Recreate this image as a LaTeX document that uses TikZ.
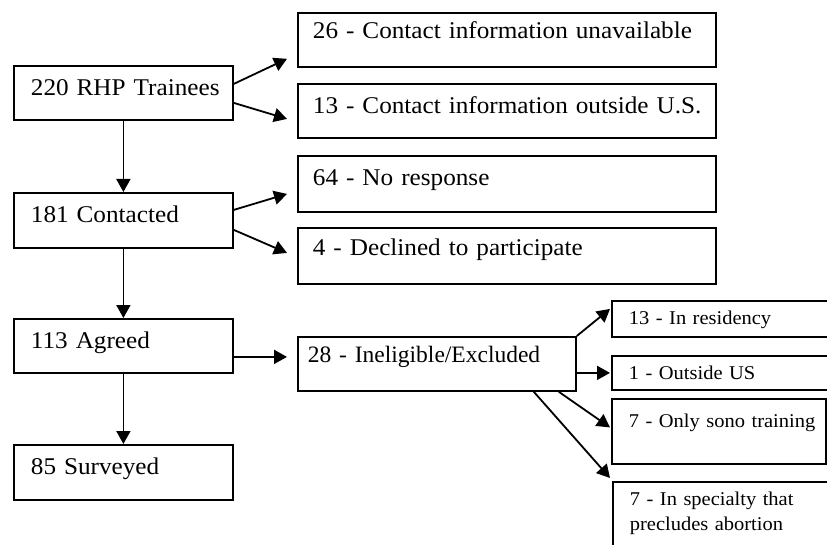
\documentclass[tikz,border=0pt]{standalone}
\usepackage{fontspec}
\setmainfont{Liberation Serif}
\newfontfamily\camb{Liberation Serif}[FakeStretch=1.05]
\usetikzlibrary{arrows.meta,calc}
\tikzset{
  box/.style={draw, line width=1.8pt, anchor=north west, inner ysep=0pt, inner xsep=17pt, align=left},
  bigtext/.style={font=\camb\fontsize{24}{28}\selectfont},
  smalltext/.style={font=\camb\fontsize{19.5}{25}\selectfont},
  timestext/.style={font=\rmfamily\fontsize{23.5}{28}\selectfont},
  arr/.style={line width=1.8pt, -{Triangle[length=13pt,width=14pt]}}
}
\begin{document}
\begin{tikzpicture}[x=1pt,y=-1pt]
\useasboundingbox (0,0) rectangle (827,545);
\clip (0,0) rectangle (827,545);
% left column
\node[box,bigtext,text width=185pt,text height=30pt,text depth=24pt] (A) at (13,65) {\mbox{220 RHP Trainees}};
\node[box,bigtext,text width=185pt,text height=30pt,text depth=25pt] (B) at (13,192) {\mbox{181 Contacted}};
\node[box,bigtext,text width=185pt,text height=30pt,text depth=24pt] (C) at (13,318) {\mbox{113 Agreed}};
\node[box,bigtext,text width=185pt,text height=30pt,text depth=25pt] (D) at (13,444) {\mbox{85 Surveyed}};
% right top
\node[box,bigtext,inner xsep=15pt,text width=388pt,text height=26pt,text depth=28pt] (E) at (297,12) {\mbox{26 - Contact information unavailable}};
\node[box,bigtext,inner xsep=15pt,text width=388pt,text height=30pt,text depth=24pt] (F) at (297,83) {\mbox{13 - Contact information outside U.S.}};
\node[box,bigtext,inner xsep=15pt,text width=388pt,text height=30pt,text depth=26pt] (G) at (297,155) {\mbox{64 - No response}};
\node[box,bigtext,inner xsep=15pt,text width=388pt,text height=28pt,text depth=28pt] (H) at (297,227) {\mbox{4 - Declined to participate}};
% middle
\node[box,timestext,inner xsep=10pt,text width=258pt,text height=26pt,text depth=28pt] (I) at (297,336) {\mbox{28 - Ineligible/Excluded}};
% far right
\node[box,smalltext,text width=196pt,text height=24pt,text depth=12pt] (J) at (611,300) {\mbox{13 - In residency}};
\node[box,smalltext,text width=196pt,text height=24pt,text depth=10pt] (K) at (611,355) {\mbox{1 - Outside US}};
\node[box,smalltext,text width=180pt,text height=29pt,text depth=36pt] (L) at (611,398) {\mbox{7 - Only sono training}};
\node[box,smalltext,text width=196pt,text height=24pt,text depth=46pt] (M) at (612,481) {\mbox{7 - In specialty that}\\\mbox{precludes abortion}};
% connectors
\draw[arr] (A.south) -- (B.north);
\draw[arr] (B.south) -- (C.north);
\draw[arr] (C.south) -- (D.north);
\draw[arr] ($(A.east)+(0,-9)$) -- ($(E.south west)+(-10,-9)$);
\draw[arr] ($(A.east)+(0,10)$) -- ($(F.west)+(-10,8)$);
\draw[arr] ($(B.east)+(0,-10.5)$) -- ($(G.west)+(-10,10)$);
\draw[arr] ($(B.east)+(0,9.5)$) -- ($(H.west)+(-10,-3)$);
\draw[arr] ($(C.east)+(0,11)$) -- ($(I.west)+(-10,-7)$);
\draw[arr] (I.north east) -- ($(J.west)+(-1,-10)$);
\draw[arr] ($(I.east)+(0,9)$) -- ($(K.west)+(-1,0)$);
\draw[arr] ($(I.south east)+(-18,0)$) -- ($(L.west)+(-1,-4)$);
\draw[arr] ($(I.south east)+(-43,0)$) -- ($(M.north west)+(-2,-3)$);
\end{tikzpicture}
\end{document}
